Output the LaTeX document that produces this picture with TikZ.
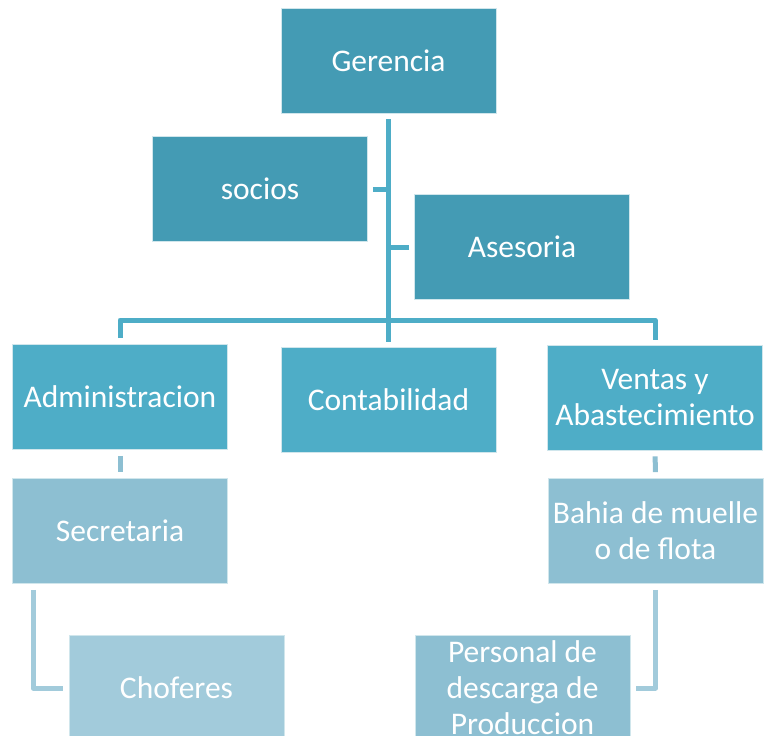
\documentclass[tikz,border=0pt]{standalone}
\usepackage{fontspec}
\setmainfont{Carlito}
\usepackage{tikz}

\definecolor{topcol}{HTML}{449BB4}
\definecolor{midcol}{HTML}{4EADC7}
\definecolor{lowcol}{HTML}{8DBFD2}
\definecolor{lastcol}{HTML}{A2CBDB}

\begin{document}
\begin{tikzpicture}[x=1pt, y=-1pt,
		box_style/.style={rectangle,draw=white!75!topcol,line width=0.8pt,minimum width=215pt,minimum height=105pt,inner sep=0pt,align=center,text=white,font=\fontsize{31.5}{36}\selectfont},
		top_style/.style={box_style,fill=topcol},
		mid_style/.style={box_style,fill=midcol},
		low_style/.style={box_style,fill=lowcol},
		last_style/.style={box_style,fill=lastcol},
		edge_style/.style={draw=midcol,line width=5pt,line join=round,shorten <=6pt,shorten >=5pt},
		stub_style/.style={draw=midcol,line width=5pt,shorten <=5pt},
		low_edge/.style={draw=lowcol,line width=5pt,line join=round,shorten <=6pt,shorten >=6pt},
		last_edge/.style={draw=lastcol,line width=5pt,line join=round,shorten <=6pt,shorten >=6pt}]
		
		\useasboundingbox (0,0) rectangle (766,736);
		\clip (0,0) rectangle (766,736);
		
		\node[top_style] (ger) at (388.5,60.5)  {Gerencia};
		\node[top_style] (soc) at (260,189)  {socios};
		\node[top_style] (ase) at (522,247)  {Asesoria};
		\node[mid_style] (adm) at (120,397)  {Administracion};
		\node[mid_style] (con) at (388.5,400)  {Contabilidad};
		\node[mid_style] (ven) at (655,397.5)  {Ventas y\\Abastecimiento};
		\node[low_style] (sec) at (120,531)  {Secretaria};
		\node[low_style] (bah) at (655.5,531)  {Bahia de muelle\\o de flota};
		\node[last_style] (cho) at (176.5,688)  {Choferes};
		\node[low_style] (per) at (522.5,688)  {Personal de\\descarga de\\Produccion};
		
		\coordinate (bus) at (388.5,320);
		
		\draw[edge_style]  (ger) -- (con);
		\draw[edge_style]  (adm.north) -- (adm.north |- bus) -- (ven.north |- bus) -- (ven.north);
		\draw[stub_style]  (soc.east) -- (soc.east -| ger.south);
		\draw[stub_style]  (ase.west) -- (ase.west -| ger.south);
		
		\draw[low_edge]  (adm) -- (sec);
		\draw[low_edge]  (ven) -- (bah);
		\draw[last_edge]  ([xshift=21pt]sec.south west) |- (cho.west);
		\draw[last_edge]  (bah.south) |- (per.east);
		
		\end{tikzpicture}
\end{document}
